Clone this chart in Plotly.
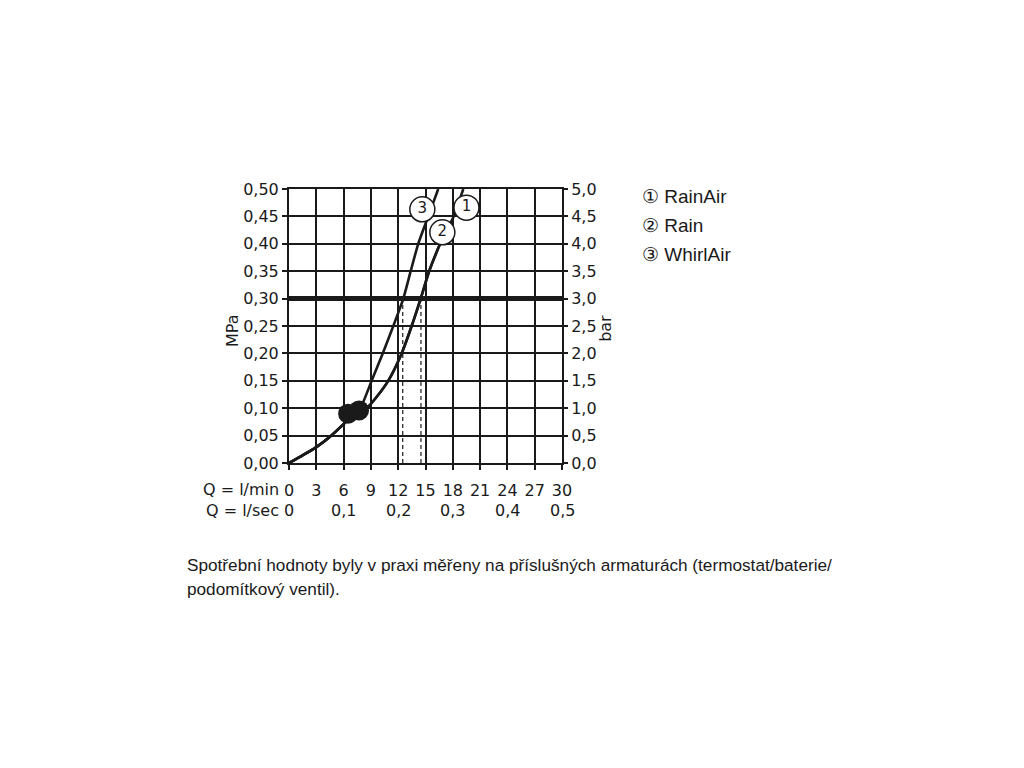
import plotly.graph_objects as go

# Flow (l/min) vs pressure (MPa)
common_q = [0, 1.5, 3, 4.5, 6, 6.8]
common_p = [0, 0.014, 0.029, 0.048, 0.071, 0.084]

whirlair_q = common_q + [7.3, 8.0, 9.08, 10.3, 11.46, 12.56, 13.37, 14.2, 15.3, 16.4]
whirlair_p = common_p + [0.093, 0.106, 0.15, 0.20, 0.25, 0.30, 0.35, 0.40, 0.45, 0.50]

rain_q = common_q + [7.6, 8.7, 9.6, 10.9, 12.38, 13.48, 14.47, 15.4, 16.6]
rain_p = common_p + [0.093, 0.103, 0.12, 0.15, 0.20, 0.25, 0.30, 0.35, 0.40]

rainair_q = rain_q + [17.3, 18.1, 19.15]
rainair_p = rain_p + [0.425, 0.45, 0.50]

# minimum flow dots
dot_q = [6.5, 7.7]
dot_p = [0.090, 0.096]

# working pressure and the flows there
work_p = 0.30
work_q = [12.5, 14.5]

# curve number labels
label_num = ["1", "2", "3"]
label_q = [19.5, 16.85, 14.65]
label_p = [0.466, 0.421, 0.463]

legend_items = ["① RainAir", "② Rain", "③ WhirlAir"]

mpa_ticks = [0, 0.05, 0.10, 0.15, 0.20, 0.25, 0.30, 0.35, 0.40, 0.45, 0.50]
mpa_text = ["0,00", "0,05", "0,10", "0,15", "0,20", "0,25", "0,30", "0,35", "0,40", "0,45", "0,50"]
bar_ticks = [0, 0.5, 1, 1.5, 2, 2.5, 3, 3.5, 4, 4.5, 5]
bar_text = ["0,0", "0,5", "1,0", "1,5", "2,0", "2,5", "3,0", "3,5", "4,0", "4,5", "5,0"]
lmin_ticks = [0, 3, 6, 9, 12, 15, 18, 21, 24, 27, 30]
lsec_pos = [0, 6, 12, 18, 24, 30]
lsec_text = ["0", "0,1", "0,2", "0,3", "0,4", "0,5"]

caption = [
    "Spotřební hodnoty byly v praxi měřeny na příslušných armaturách (termostat/baterie/",
    "podomítkový ventil).",
]

tick_font = dict(family="DejaVu Sans", size=16, color="#1a1a1a")
text_font = dict(family="Liberation Sans", size=19, color="#1a1a1a")

fig = go.Figure()

# working pressure line
fig.add_trace(go.Scatter(x=[0, 30], y=[work_p, work_p], mode="lines",
                         line=dict(color="#1a1a1a", width=5), showlegend=False))
for q in work_q:
    fig.add_trace(go.Scatter(x=[q, q], y=[0, work_p], mode="lines",
                             line=dict(color="#1a1a1a", width=1.2, dash="4px,3px"),
                             showlegend=False))

for qs, ps in [(rainair_q, rainair_p), (rain_q, rain_p), (whirlair_q, whirlair_p)]:
    fig.add_trace(go.Scatter(x=qs, y=ps, mode="lines",
                             line=dict(color="#1a1a1a", width=2.6, shape="spline", smoothing=0.6),
                             showlegend=False))

fig.add_trace(go.Scatter(x=dot_q, y=dot_p, mode="markers",
                         marker=dict(size=20, color="#1a1a1a"), showlegend=False))

fig.add_trace(go.Scatter(x=label_q, y=label_p, mode="markers+text", text=label_num,
                         textposition="middle center",
                         textfont=dict(family="DejaVu Sans", size=15, color="#1a1a1a"),
                         marker=dict(size=25, color="white", line=dict(color="#1a1a1a", width=1.5)),
                         showlegend=False, cliponaxis=False))

# invisible trace for right axis
fig.add_trace(go.Scatter(x=[0], y=[0], yaxis="y2", mode="markers",
                         marker=dict(opacity=0), showlegend=False, hoverinfo="skip"))

annotations = [
    dict(text="Q = l/min", xref="paper", yref="paper", x=-0.03, y=-0.095,
         xanchor="right", yanchor="middle", showarrow=False, font=tick_font),
    dict(text="Q = l/sec", xref="paper", yref="paper", x=-0.03, y=-0.175,
         xanchor="right", yanchor="middle", showarrow=False, font=tick_font),
    dict(text="MPa", xref="paper", yref="paper", x=-0.209, y=0.485, textangle=-90,
         xanchor="center", yanchor="middle", showarrow=False, font=tick_font),
    dict(text="bar", xref="paper", yref="paper", x=1.161, y=0.493, textangle=-90,
         xanchor="center", yanchor="middle", showarrow=False, font=tick_font),
]
for q, t in zip(lsec_pos, lsec_text):
    annotations.append(dict(text=t, xref="x", yref="paper", x=q, y=-0.175,
                            xanchor="center", yanchor="middle", showarrow=False, font=tick_font))
for i, t in enumerate(legend_items):
    annotations.append(dict(text=t, xref="paper", yref="paper", x=1.286, y=0.974 - i * 0.106,
                            xanchor="left", yanchor="middle", showarrow=False, font=text_font))
for i, t in enumerate(caption):
    annotations.append(dict(text=t, xref="paper", yref="paper", x=-0.381, y=-0.372 - i * 0.088,
                            xanchor="left", yanchor="middle", showarrow=False,
                            font=dict(family="Liberation Sans", size=17.2, color="#1a1a1a")))

fig.update_layout(
    width=1024, height=768,
    margin=dict(l=281, r=470, t=181, b=313),
    paper_bgcolor="white", plot_bgcolor="white",
    xaxis=dict(range=[0, 30], tickvals=lmin_ticks, ticktext=[str(v) for v in lmin_ticks],
               showgrid=True, gridcolor="#1a1a1a", gridwidth=1.5,
               showline=True, linecolor="#1a1a1a", linewidth=2, mirror=True,
               ticks="outside", ticklen=5, tickcolor="#1a1a1a", tickwidth=1.5,
               ticklabelstandoff=7, tickfont=tick_font, zeroline=False, fixedrange=True),
    yaxis=dict(range=[0, 0.5], tickvals=mpa_ticks, ticktext=mpa_text,
               showgrid=True, gridcolor="#1a1a1a", gridwidth=1.5,
               showline=True, linecolor="#1a1a1a", linewidth=2, mirror=True,
               ticks="outside", ticklen=5, tickcolor="#1a1a1a", tickwidth=1.5,
               tickfont=tick_font, zeroline=False),
    yaxis2=dict(range=[0, 5], tickvals=bar_ticks, ticktext=bar_text, overlaying="y",
                side="right", showgrid=False, zeroline=False,
                ticks="outside", ticklen=5, tickcolor="#1a1a1a", tickwidth=1.5,
                tickfont=tick_font),
    annotations=annotations,
)

fig.write_html("out.html")
